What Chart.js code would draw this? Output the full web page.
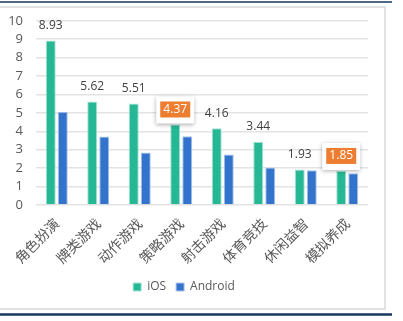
<!DOCTYPE html>
<html>
<head>
<meta charset="utf-8">
<script src="https://cdn.jsdelivr.net/npm/chart.js@4/dist/chart.umd.min.js"></script>
<style>
  body { margin: 0; background: #fff; }
  canvas { display: block; }
</style>
</head>
<body>
<canvas id="chart" width="403" height="321"></canvas>
<script>
// data
var categories = ['角色扮演', '牌类游戏', '动作游戏', '策略游戏', '射击游戏', '体育竞技', '休闲益智', '模拟养成'];
var iosValues = [8.93, 5.62, 5.51, 4.37, 4.16, 3.44, 1.93, 1.85];
var androidValues = [5.06, 3.72, 2.85, 3.73, 2.74, 2.03, 1.89, 1.72];
var highlighted = [3, 7]; // labels shown in orange callouts
var yTicks = [0, 1, 2, 3, 4, 5, 6, 7, 8, 9, 10];

var framePlugin = {
    id: 'frame',
    beforeDraw(chart) {
        var ctx = chart.ctx;
        ctx.save();
        ctx.fillStyle = '#fff';
        ctx.fillRect(0, 0, chart.width, chart.height);
        ctx.strokeStyle = '#d9d9d9';
        ctx.lineWidth = 1.5;
        ctx.strokeRect(-2, 7, 387, 302);
        ctx.strokeStyle = '#17375e';
        ctx.lineWidth = 1.5;
        ctx.beginPath();
        ctx.moveTo(0, 2);
        ctx.lineTo(392, 2);
        ctx.stroke();
        ctx.lineWidth = 2.5;
        ctx.beginPath();
        ctx.moveTo(0, 314.5);
        ctx.lineTo(392, 314.5);
        ctx.stroke();
        ctx.restore();
    }
};

var valueLabels = {
    id: 'valueLabels',
    afterDatasetsDraw(chart) {
        var ctx = chart.ctx;
        var meta = chart.getDatasetMeta(0);
        ctx.save();
        ctx.font = '12px "Open Sans", sans-serif';
        ctx.textAlign = 'center';
        ctx.textBaseline = 'middle';
        meta.data.forEach(function (bar, i) {
            var x = bar.x, top = bar.y;
            var txt = iosValues[i].toFixed(2);
            if (highlighted.indexOf(i) >= 0) {
                ctx.save();
                ctx.shadowColor = 'rgba(0,0,0,0.3)';
                ctx.shadowBlur = 4;
                ctx.shadowOffsetY = 1;
                ctx.fillStyle = '#fff';
                ctx.fillRect(x - 19, top - 28, 38, 27);
                ctx.restore();
                ctx.fillStyle = '#ed7d31';
                ctx.fillRect(x - 15, top - 23, 30, 16);
                ctx.fillStyle = '#fff';
                ctx.fillText(txt, x, top - 15);
            } else {
                ctx.fillStyle = '#404040';
                ctx.fillText(txt, x, top - 15);
            }
        });
        ctx.restore();
    }
};

var ctx = document.getElementById('chart').getContext('2d');
var myChart = new Chart(ctx, {
    type: 'bar',
    data: {
        labels: categories,
        datasets: [
            {
                label: 'iOS',
                data: iosValues,
                backgroundColor: '#26b795',
                borderColor: '#a6e3d3',
                borderWidth: 1,
                barPercentage: 0.83,
                categoryPercentage: 0.58
            },
            {
                label: 'Android',
                data: androidValues,
                backgroundColor: '#3373cb',
                borderColor: '#a9c4ec',
                borderWidth: 1,
                barPercentage: 0.83,
                categoryPercentage: 0.58
            }
        ]
    },
    options: {
        responsive: false,
        animation: false,
        layout: {
            padding: { top: 11, right: 35, bottom: 18, left: 0 }
        },
        scales: {
            x: {
                grid: { display: false, drawTicks: false },
                border: { display: false },
                ticks: {
                    color: '#595959',
                    font: { size: 14, family: '"Noto Sans CJK SC", sans-serif' },
                    minRotation: 45,
                    maxRotation: 45,
                    padding: 10
                },
                afterFit(scale) { scale.height = 66; }
            },
            y: {
                min: 0,
                max: 10,
                afterBuildTicks(scale) {
                    scale.ticks = yTicks.map(function (v) { return { value: v }; });
                },
                grid: { color: '#e3e3e3', lineWidth: 1.5, drawTicks: false },
                border: { display: false },
                ticks: {
                    autoSkip: false,
                    color: '#595959',
                    font: { size: 13, family: '"Open Sans", sans-serif' },
                    padding: 13
                },
                afterFit(scale) { scale.width = 36; }
            }
        },
        plugins: {
            legend: {
                position: 'bottom',
                labels: {
                    boxWidth: 8,
                    boxHeight: 8,
                    padding: 10,
                    color: '#595959',
                    font: { size: 12, family: '"Open Sans", sans-serif' }
                }
            },
            tooltip: { enabled: false }
        }
    },
    plugins: [framePlugin, valueLabels]
});
</script>
</body>
</html>
